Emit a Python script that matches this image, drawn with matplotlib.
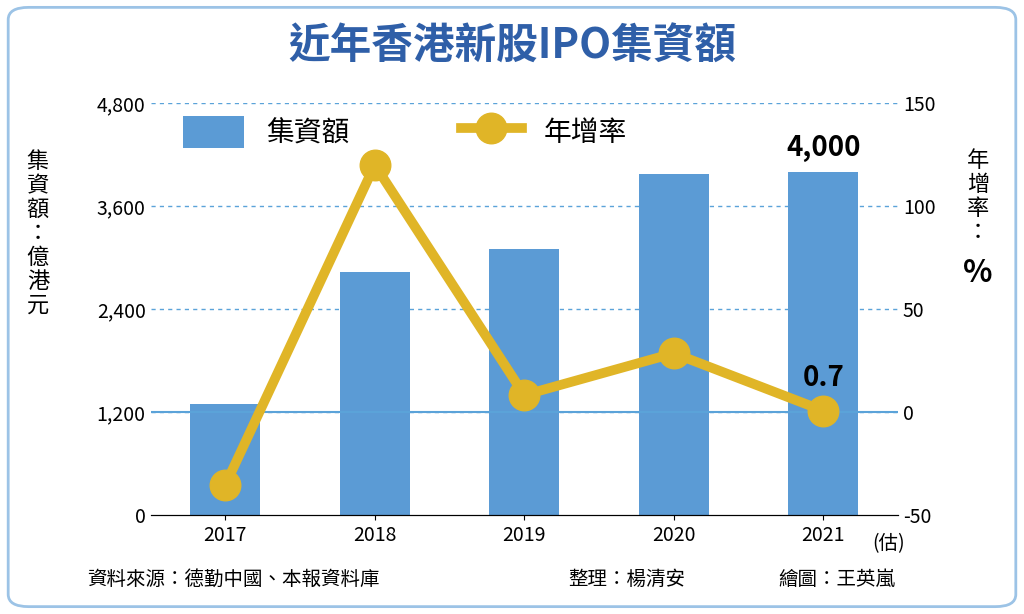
import matplotlib.pyplot as plt
from matplotlib.patches import FancyBboxPatch

plt.rcParams['font.family'] = ['Noto Sans CJK TC', 'DejaVu Sans']

years = ["2017", "2018", "2019", "2020", "2021"]
amount = [1290, 2830, 3100, 3970, 4000]   # 億港元
growth = [-35.4, 120, 8.3, 28.6, 0.7]     # %

fig = plt.figure(figsize=(10.24, 6.14), dpi=100)
fig.patches.append(FancyBboxPatch((0.008, 0.012), 0.984, 0.976, boxstyle="round,pad=0,rounding_size=0.02",
                                  transform=fig.transFigure, fill=False, edgecolor='#9cc3e6', linewidth=2))
ax = fig.add_axes([0.147, 0.161, 0.73, 0.671])
x = range(len(years))
ax.bar(x, amount, width=0.47, color='#5b9bd5', zorder=2, label='集資額')
ax.set_ylim(0, 4800)
ax.set_yticks([0, 1200, 2400, 3600, 4800])
ax.set_yticklabels(['0', '1,200', '2,400', '3,600', '4,800'], fontsize=14)
ax.set_xticks(list(x))
ax.set_xticklabels(years, fontsize=14)
ax.set_xlim(-0.5, 4.5)
for s in ['top', 'right', 'left']:
    ax.spines[s].set_visible(False)
ax.tick_params(axis='y', length=0)
for v in [1200, 2400, 3600, 4800]:
    ax.axhline(v, color='#5ba3d9', linestyle=(0, (3, 3)), linewidth=1, zorder=1)

ax2 = ax.twinx()
ax2.plot(x, growth, color='#e0b527', linewidth=7, marker='o', markersize=22, zorder=3, label='年增率')
ax2.set_ylim(-50, 150)
ax2.set_yticks([-50, 0, 50, 100, 150])
ax2.set_yticklabels(['-50', '0', '50', '100', '150'], fontsize=14)
ax2.axhline(0, color='#5ba3d9', linewidth=1.5, zorder=1)
for s in ['top', 'right', 'left']:
    ax2.spines[s].set_visible(False)
ax2.tick_params(axis='y', length=0)

ax.text(4, 4120, '4,000', ha='center', va='bottom', fontsize=20, fontweight='bold')
ax2.text(4, 10, '0.7', ha='center', va='bottom', fontsize=20, fontweight='bold')

h1, l1 = ax.get_legend_handles_labels()
h2, l2 = ax2.get_legend_handles_labels()
ax2.legend(h1 + h2, l1 + l2, loc='upper left', bbox_to_anchor=(0.01, 1.03), ncol=2, frameon=False,
           fontsize=20, columnspacing=4, handlelength=2.2, handleheight=1.4)

fig.text(0.5, 0.905, '近年香港新股IPO集資額', ha='center', fontsize=30, fontweight='bold', color='#2f5fa8')
fig.text(0.037, 0.62, '集\n資\n額\n：\n億\n港\n元', ha='center', va='center', fontsize=16, linespacing=1.05)
fig.text(0.955, 0.68, '年\n增\n率\n：', ha='center', va='center', fontsize=16, linespacing=1.05)
fig.text(0.955, 0.555, '%', ha='center', va='center', fontsize=22, fontweight='bold')
fig.text(0.852, 0.105, '(估)', fontsize=14)
fig.text(0.085, 0.048, '資料來源：德勤中國、本報資料庫', fontsize=14)
fig.text(0.555, 0.048, '整理：楊清安', fontsize=14)
fig.text(0.76, 0.048, '繪圖：王英嵐', fontsize=14)

fig.savefig('out.png', dpi=100)
